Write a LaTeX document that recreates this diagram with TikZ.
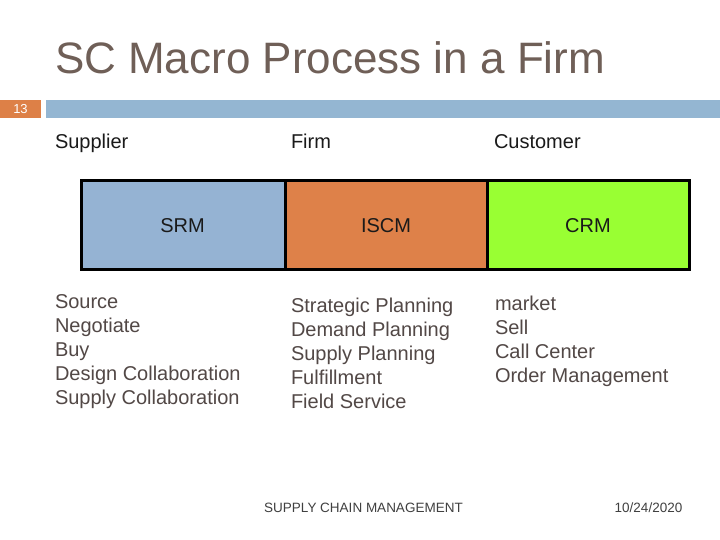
\documentclass[tikz,border=0pt]{standalone}
\usepackage{fontspec}
\setmainfont{Liberation Sans}
\definecolor{titlec}{HTML}{6F5F57}
\definecolor{listc}{HTML}{524846}
\definecolor{barorange}{HTML}{DD8047}
\definecolor{barblue}{HTML}{94B6D2}
\definecolor{srmc}{HTML}{95B3D3}
\definecolor{iscmc}{HTML}{DE8149}
\definecolor{crmc}{HTML}{99FF33}
\definecolor{footc}{HTML}{404040}
\definecolor{headc}{HTML}{1A1A1A}
\newcommand{\lsz}{\fontsize{20}{24}\selectfont}
\tikzset{
  lbl/.style={anchor=base west, inner sep=0pt, outer sep=0pt},
  blocklabel/.style={inner sep=0pt, outer sep=0pt},
  blockframe/.style={draw=black, line width=3pt},
}
\begin{document}
\begin{tikzpicture}[x=1pt,y=-1pt]
\fill[white] (0,0) rectangle (720,540);
\useasboundingbox (0,0) rectangle (720,540);
% top bars
\fill[barorange] (0,100) rectangle (41,118);
\fill[barblue] (46,100) rectangle (720,118);
% boxes
\filldraw[blockframe, fill=srmc] (81.5,180.5) rectangle (285.5,269.5);
\filldraw[blockframe, fill=iscmc] (285.5,180.5) rectangle (487.5,269.5);
\filldraw[blockframe, fill=crmc] (487.5,180.5) rectangle (689.5,269.5);
% title
\node[lbl] (title) at (55,74) {\fontsize{44}{50}\selectfont\color{titlec}SC Macro Process in a Firm};
\node[blocklabel] (pagenum) at (20.5,109) {\fontsize{13}{14}\selectfont\color{white}13};
% headers
\node[lbl] (hsup) at (55,149) {\lsz\color{headc}Supplier};
\node[lbl] (hfirm) at (291,149) {\lsz\color{headc}Firm};
\node[lbl] (hcus) at (494,149) {\lsz\color{headc}Customer};
% box labels
\node[blocklabel] (srmt) at (182.5,226) {\lsz\color{headc}SRM};
\node[blocklabel] (iscmt) at (386,226) {\lsz\color{headc}ISCM};
\node[blocklabel] (crmt) at (588,226) {\lsz\color{headc}CRM};
% lists
\node[lbl] (l1a) at (55,308) {\lsz\color{listc}Source};
\node[lbl] (l1b) at (55,332) {\lsz\color{listc}Negotiate};
\node[lbl] (l1c) at (55,356) {\lsz\color{listc}Buy};
\node[lbl] (l1d) at (55,380) {\lsz\color{listc}Design Collaboration};
\node[lbl] (l1e) at (55,404) {\lsz\color{listc}Supply Collaboration};
\node[lbl] (l2a) at (291,312) {\lsz\color{listc}Strategic Planning};
\node[lbl] (l2b) at (291,336) {\lsz\color{listc}Demand Planning};
\node[lbl] (l2c) at (291,360) {\lsz\color{listc}Supply Planning};
\node[lbl] (l2d) at (291,384) {\lsz\color{listc}Fulfillment};
\node[lbl] (l2e) at (291,408) {\lsz\color{listc}Field Service};
\node[lbl] (l3a) at (495,310) {\lsz\color{listc}market};
\node[lbl] (l3b) at (495,334) {\lsz\color{listc}Sell};
\node[lbl] (l3c) at (495,358) {\lsz\color{listc}Call Center};
\node[lbl] (l3d) at (495,382) {\lsz\color{listc}Order Management};
% footer
\node[lbl, anchor=base] (foot) at (363.5,512) {\fontsize{13.5}{15}\selectfont\color{footc}SUPPLY CHAIN MANAGEMENT};
\node[lbl, anchor=base] (date) at (648.5,512) {\fontsize{13.5}{15}\selectfont\color{footc}10/24/2020};
\end{tikzpicture}
\end{document}
